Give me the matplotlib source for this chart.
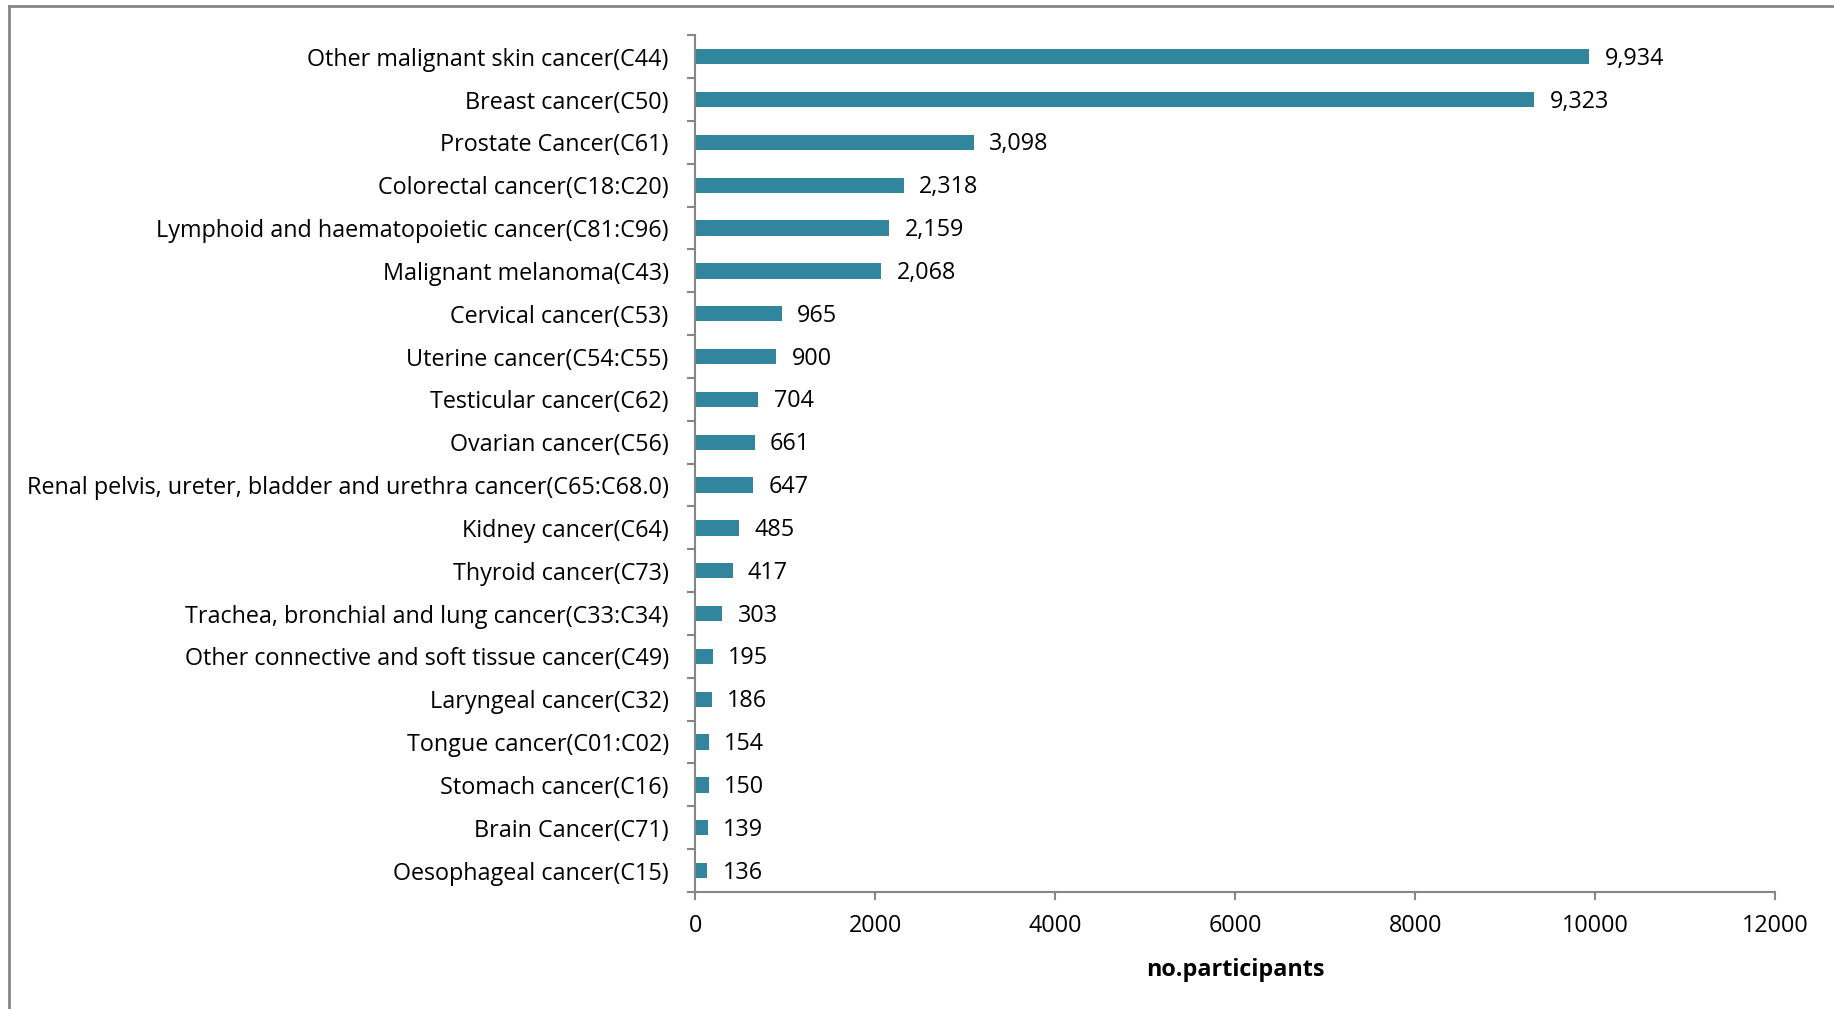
import matplotlib.pyplot as plt
from matplotlib.lines import Line2D

categories = [
    "Other malignant skin cancer(C44)",
    "Breast cancer(C50)",
    "Prostate Cancer(C61)",
    "Colorectal cancer(C18:C20)",
    "Lymphoid and haematopoietic cancer(C81:C96)",
    "Malignant melanoma(C43)",
    "Cervical cancer(C53)",
    "Uterine cancer(C54:C55)",
    "Testicular cancer(C62)",
    "Ovarian cancer(C56)",
    "Renal pelvis, ureter, bladder and urethra cancer(C65:C68.0)",
    "Kidney cancer(C64)",
    "Thyroid cancer(C73)",
    "Trachea, bronchial and lung cancer(C33:C34)",
    "Other connective and soft tissue cancer(C49)",
    "Laryngeal cancer(C32)",
    "Tongue cancer(C01:C02)",
    "Stomach cancer(C16)",
    "Brain Cancer(C71)",
    "Oesophageal cancer(C15)",
]
participants = [9934, 9323, 3098, 2318, 2159, 2068, 965, 900, 704, 661,
                647, 485, 417, 303, 195, 186, 154, 150, 139, 136]
x_ticks = [0, 2000, 4000, 6000, 8000, 10000, 12000]

plt.rcParams['font.family'] = ['Open Sans', 'DejaVu Sans']
fs = 16.8

fig = plt.figure(figsize=(18.34, 10.09), dpi=100)
ax = fig.add_axes([0.379, 0.116, 0.589, 0.849])

n = len(categories)
ypos = list(range(n))
ax.barh(ypos, participants, height=0.36, color='#31859C')
ax.set_ylim(n - 0.5, -0.5)
ax.set_xlim(0, 12000)

for y, v in zip(ypos, participants):
    ax.annotate(f"{v:,}", (v, y), xytext=(11, -1.5), textcoords='offset points',
                va='center', ha='left', fontsize=fs, color='black')

ax.set_yticks(ypos)
ax.set_yticklabels(categories, fontsize=fs)
ax.set_yticks([i - 0.5 for i in range(n + 1)], minor=True)
ax.tick_params(axis='y', which='major', length=0, pad=19)
ax.tick_params(axis='y', which='minor', length=6, color='#868686', width=1.5)
ax.set_xticks(x_ticks)
ax.set_xticklabels([str(t) for t in x_ticks], fontsize=fs)
ax.tick_params(axis='x', length=6, color='#868686', width=1.5, pad=10)
ax.set_xlabel("no.participants", fontsize=fs, fontweight='bold', labelpad=14)

for side in ['top', 'right']:
    ax.spines[side].set_visible(False)
for side in ['left', 'bottom']:
    ax.spines[side].set_color('#868686')
    ax.spines[side].set_linewidth(1.5)

# chart area border (cropped at right and bottom)
fig.add_artist(Line2D([0.005, 0.005], [0.0, 0.994], color='#868686', lw=2))
fig.add_artist(Line2D([0.005, 1.0], [0.994, 0.994], color='#868686', lw=2))

fig.savefig("out.png", dpi=100)
